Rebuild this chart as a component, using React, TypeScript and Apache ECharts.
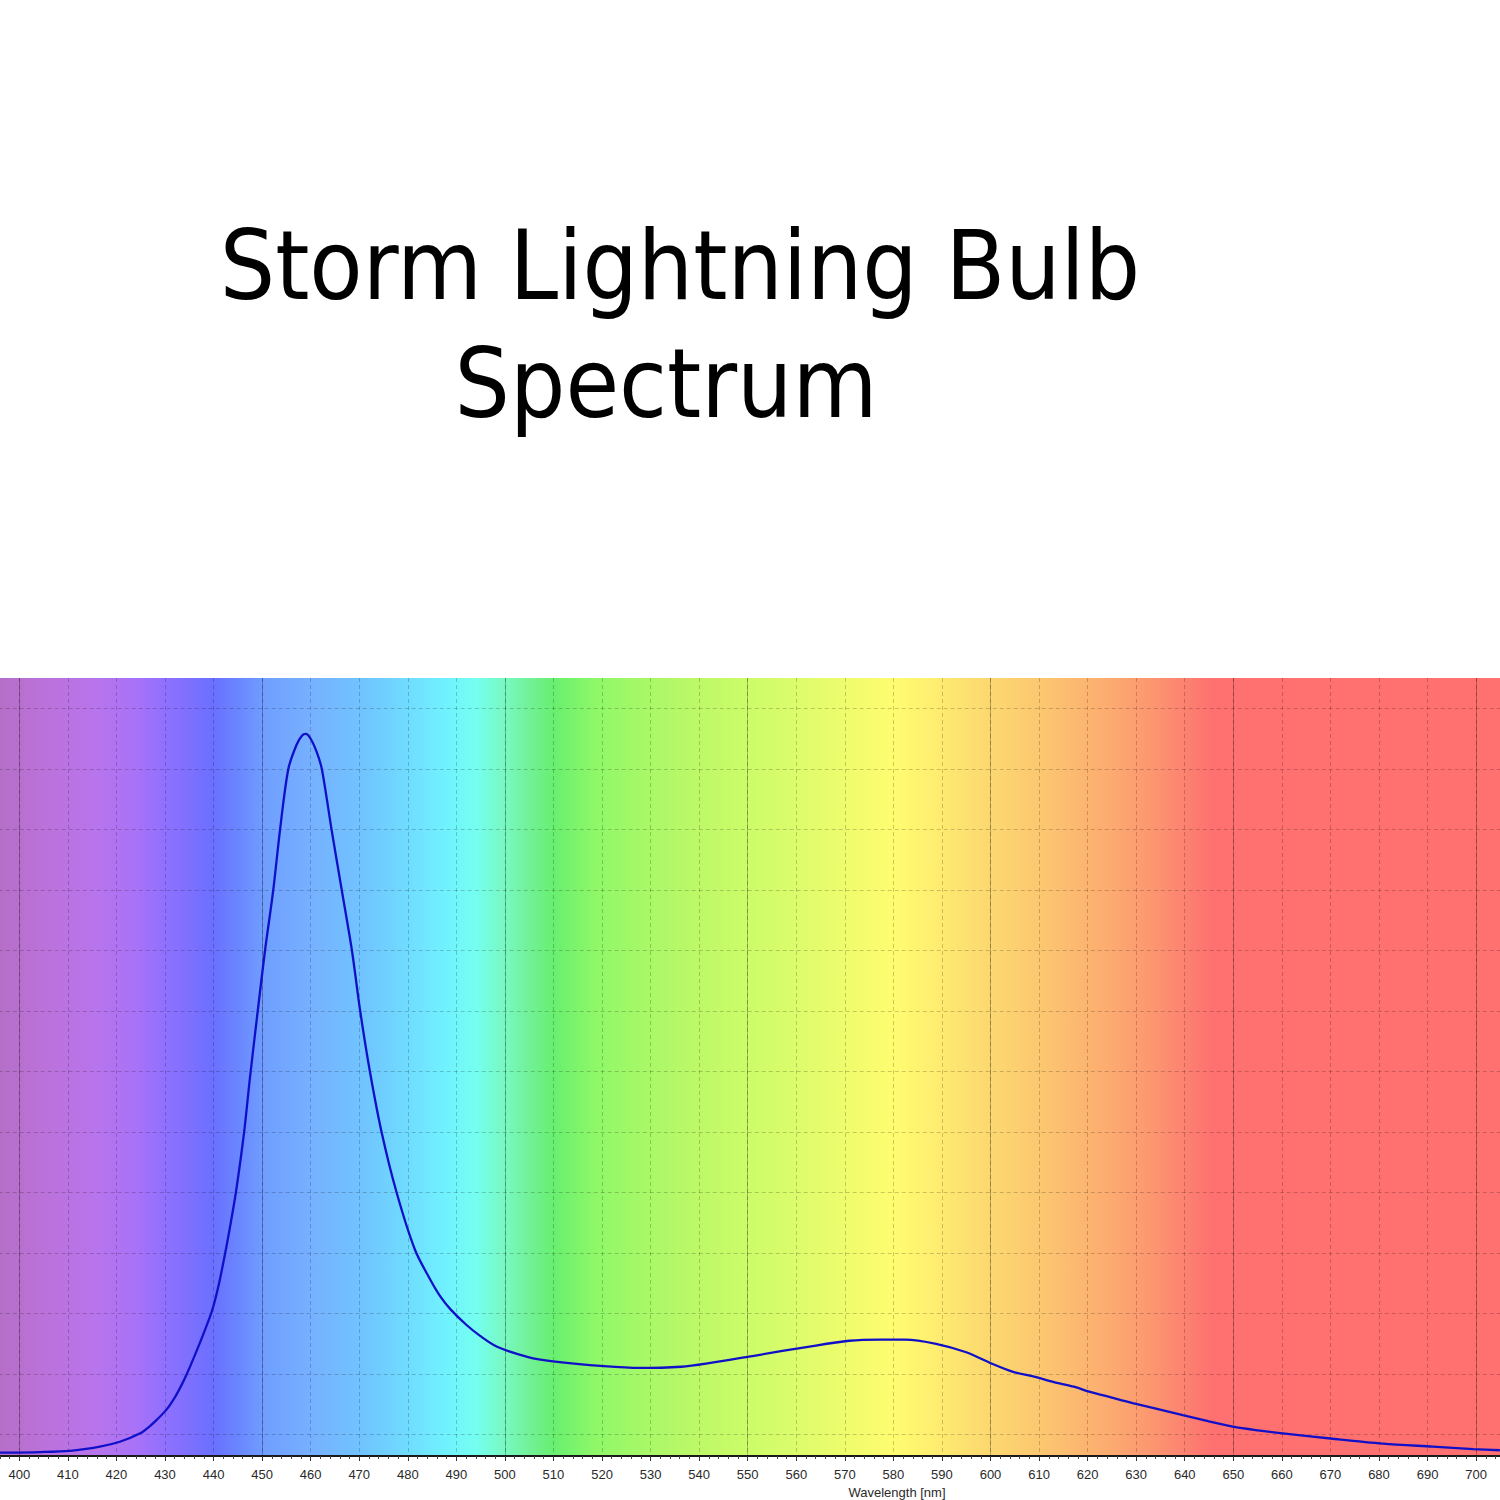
import { useEffect, useRef } from 'react';
import * as echarts from 'echarts';

// Spectrum curve (wavelength in nm, intensity in grid units)
const WAVELENGTH = [
  396.0, 404.3, 410.4, 416.6, 420.7, 424.9, 426.9, 428.4, 430.4, 432.0,
  433.3, 434.5, 436.2, 438.0, 439.7, 441.0, 442.4, 443.5, 444.6, 446.3,
  447.5, 449.1, 450.6, 452.3, 453.7, 455.4, 457.1, 458.2, 459.0, 460.0,
  461.2, 462.3, 464.3, 466.4, 468.5, 470.2, 472.2, 474.6, 477.7, 481.5,
  484.7, 486.8, 488.9, 492.1, 494.9, 498.4, 504.8, 509.9, 520.4, 527.8,
  536.3, 541.4, 551.9, 562.4, 570.9, 577.2, 582.4, 588.8, 595.0, 600.3,
  604.5, 608.8, 612.9, 617.2, 620.3, 625.0, 629.3, 634.5, 639.6, 644.8,
  649.9, 655.0, 660.2, 670.5, 680.8, 691.1, 699.4, 704.9,
];

const INTENSITY = [
  -0.3, -0.29, -0.27, -0.2, -0.12, 0.02, 0.14, 0.25, 0.42, 0.61,
  0.8, 1.0, 1.32, 1.68, 2.05, 2.45, 3.0, 3.48, 4.0, 5.0,
  5.9, 7.0, 8.0, 9.0, 10.0, 11.0, 11.4, 11.55, 11.58, 11.5,
  11.29, 11.0, 10.0, 9.0, 8.0, 7.0, 6.0, 5.0, 4.0, 3.05,
  2.55, 2.27, 2.06, 1.81, 1.63, 1.45, 1.28, 1.21, 1.13, 1.1,
  1.12, 1.17, 1.31, 1.45, 1.55, 1.57, 1.57, 1.5, 1.36, 1.17,
  1.04, 0.96, 0.87, 0.79, 0.71, 0.61, 0.52, 0.42, 0.32, 0.22,
  0.13, 0.07, 0.02, -0.07, -0.15, -0.2, -0.24, -0.26,
];

const X_MIN = 390;
const X_MAX = 710;
const X_STEP = 10;
const Y_MIN = -0.355;
const Y_MAX = 12.504;
const HIDDEN_LABELS = [390, 710];

const SOLID_GRID_X = [400, 450, 500, 550, 600, 650, 700];
const DASHED_GRID_Y = [0, 1, 2, 3, 4, 5, 6, 7, 8, 9, 10, 11, 12];

// background colour of the visible spectrum, [nm, colour]
const SPECTRUM_STOPS: [number, string][] = [
  [390, '#b46ec4'],
  [396, '#b56fc8'],
  [400, '#b870cf'],
  [406, '#bc72dc'],
  [416, '#b874ec'],
  [424, '#a872f8'],
  [430, '#9070ff'],
  [437, '#7670ff'],
  [440, '#6a70ff'],
  [445, '#6a86ff'],
  [451, '#70a0ff'],
  [460, '#76b0ff'],
  [471, '#70c4ff'],
  [480, '#70dcff'],
  [488, '#70f2ff'],
  [494, '#74fff0'],
  [500, '#78f8c0'],
  [506, '#70f090'],
  [510, '#68ef70'],
  [519, '#90f868'],
  [529, '#a8f868'],
  [539, '#bcf868'],
  [550, '#ccfc68'],
  [560, '#dcfc6c'],
  [570, '#eefc6c'],
  [580, '#fffc70'],
  [588, '#ffef70'],
  [595, '#fce070'],
  [605, '#fcd070'],
  [614, '#fcc070'],
  [624, '#fcac70'],
  [634, '#fc9470'],
  [642, '#fc7c70'],
  [646, '#ff7070'],
  [710, '#ff7070'],
];

const TITLE_LINES = ['Storm Lightning Bulb', 'Spectrum'];
const AXIS_NAME = 'Wavelength [nm]';

const TITLE_FONT = '"DejaVu Sans Condensed", "DejaVu Sans", sans-serif';
const AXIS_FONT = '"Liberation Sans", Arial, sans-serif';

export default function App() {
  const chartRef = useRef<HTMLDivElement>(null);

  useEffect(() => {
    if (!chartRef.current) return;
    const chart = echarts.init(chartRef.current, null, { renderer: 'svg' });

    const background = new echarts.graphic.LinearGradient(
      0,
      0,
      1,
      0,
      SPECTRUM_STOPS.map(([nm, color]) => ({
        offset: (nm - X_MIN) / (X_MAX - X_MIN),
        color,
      }))
    );

    const textStyle = (text: string, fontSize: number, fontFamily: string, fill: string) => ({
      text,
      fontSize,
      fontFamily,
      fill,
      align: 'center',
      verticalAlign: 'middle',
      textAlign: 'center',
      textVerticalAlign: 'middle',
    });

    const option: any = {
      animation: false,
      grid: {
        left: -29.26,
        right: -24.66,
        top: 678,
        bottom: 44,
        show: true,
        borderWidth: 0,
        backgroundColor: background,
        containLabel: false,
        outerBoundsMode: 'none',
      },
      xAxis: {
        type: 'value',
        min: X_MIN,
        max: X_MAX,
        interval: X_STEP,
        axisLine: { onZero: false, lineStyle: { color: '#1a1a1a', width: 2 } },
        axisTick: { length: 5, lineStyle: { color: '#333' } },
        minorTick: { show: true, splitNumber: 5, length: 3, lineStyle: { color: '#444' } },
        axisLabel: {
          margin: 12,
          fontSize: 13,
          color: '#2a2a2a',
          fontFamily: AXIS_FONT,
          formatter: (v: number) => (HIDDEN_LABELS.includes(v) ? '' : String(v)),
        },
        splitLine: {
          show: true,
          lineStyle: { type: [4, 3], color: 'rgba(0,0,0,0.2)', width: 1 },
        },
      },
      yAxis: {
        type: 'value',
        min: Y_MIN,
        max: Y_MAX,
        show: false,
        splitLine: { show: false },
      },
      graphic: [
        { type: 'text', x: 680, y: 265, style: textStyle(TITLE_LINES[0], 97, TITLE_FONT, '#000') },
        { type: 'text', x: 666, y: 383, style: textStyle(TITLE_LINES[1], 97, TITLE_FONT, '#000') },
        { type: 'text', x: 897, y: 1492, style: textStyle(AXIS_NAME, 13, AXIS_FONT, '#2a2a2a') },
      ],
      series: [
        {
          type: 'line',
          data: WAVELENGTH.map((w, i) => [w, INTENSITY[i]]),
          showSymbol: false,
          smooth: 0.3,
          z: 10,
          lineStyle: { color: '#1010c8', width: 2.3 },
          markLine: {
            silent: true,
            symbol: 'none',
            label: { show: false },
            emphasis: { disabled: true },
            data: [
              ...SOLID_GRID_X.map((x) => ({
                xAxis: x,
                lineStyle: { type: 'solid', color: 'rgba(0,0,0,0.25)', width: 1 },
              })),
              ...DASHED_GRID_Y.map((y) => ({
                yAxis: y,
                lineStyle: { type: [4, 3], color: 'rgba(0,0,0,0.2)', width: 1 },
              })),
            ],
          },
        },
      ],
    };

    chart.setOption(option);

    return () => {
      chart.dispose();
    };
  }, []);

  return (
    <div
      ref={chartRef}
      style={{ position: 'fixed', left: 0, top: 0, width: 1500, height: 1500, background: '#fff' }}
    />
  );
}
